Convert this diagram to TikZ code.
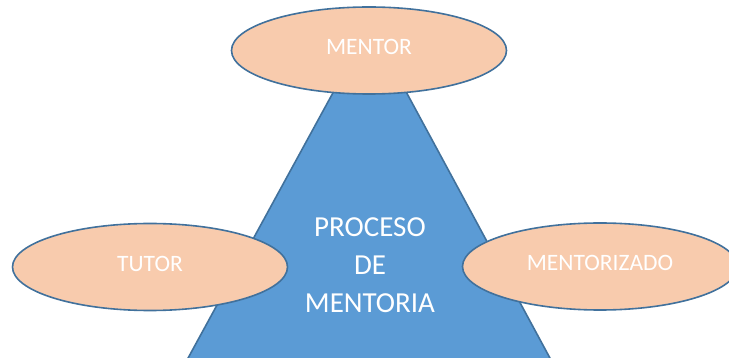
\documentclass[tikz,border=0pt]{standalone}
\usepackage{fontspec}
\setmainfont{Carlito}
\usetikzlibrary{shapes.geometric}
\definecolor{peach}{HTML}{F8CBAD}
\definecolor{edgeblue}{HTML}{41719C}
\definecolor{fillblue}{HTML}{5B9BD5}

\begin{document}
\begin{tikzpicture}[x=1pt,y=-1pt,
    rol/.style={ellipse,draw=edgeblue,line width=1.6pt,fill=peach,
        minimum width=275pt,minimum height=87pt,inner sep=0pt,
        text=white,text depth=7pt,font=\fontsize{23.5}{28}\selectfont}]
                        \useasboundingbox (0,0) rectangle (729,358);
                        \clip (0,0) rectangle (729,358);
                        \fill[fillblue] (370,25) -- (187,360) -- (551,360) -- cycle;
                        \draw[edgeblue,line width=1.6pt] (187,360) -- (370,25) -- (551,360);
                        \node[text=white,align=center,font=\fontsize{29}{38}\selectfont]
                            (proceso) at (370,265) {PROCESO\\DE\\MENTORIA};
                        \node[rol] (mentor) at (369,50.5) {MENTOR};
                        \node[rol] (tutor) at (150,267) {TUTOR};
                        \node[rol] (mentorizado) at (600,266.5) {MENTORIZADO};
                    \end{tikzpicture}
\end{document}
